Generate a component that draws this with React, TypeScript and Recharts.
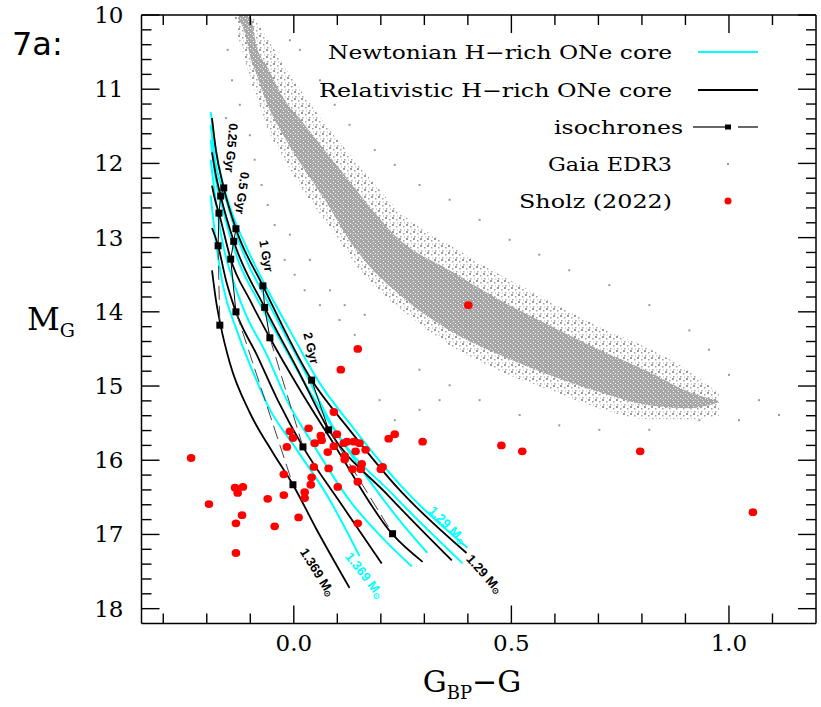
import React from "react";
import { ComposedChart, Line, Area, Scatter, XAxis, YAxis, ReferenceDot, Legend, Label } from "recharts";

// ---------- axes ----------
const xTicks = [-0.3, -0.2, -0.1, 0.0, 0.1, 0.2, 0.3, 0.4, 0.5, 0.6, 0.7, 0.8, 0.9, 1.0, 1.1];
const xMajorTicks = [0.0, 0.5, 1.0];
const xMajorLabels = ["0.0", "0.5", "1.0"];
const yTicks = [10, 10.2, 10.4, 10.6, 10.8, 11, 11.2, 11.4, 11.6, 11.8, 12, 12.2, 12.4, 12.6, 12.8, 13, 13.2, 13.4, 13.6, 13.8, 14, 14.2, 14.4, 14.6, 14.8, 15, 15.2, 15.4, 15.6, 15.8, 16, 16.2, 16.4, 16.6, 16.8, 17, 17.2, 17.4, 17.6, 17.8, 18];
const yMajorTicks = [10, 11, 12, 13, 14, 15, 16, 17, 18];
const yMajorLabels = ["10", "11", "12", "13", "14", "15", "16", "17", "18"];

// ---------- Gaia EDR3 density band (range of M_G at a given colour) ----------
const gaiaBand = [
  { x: -0.128, halo: [10.0, 10.3], core: [10.0, 10.05] },
  { x: -0.112, halo: [10.0, 10.6], core: [10.0, 10.25] },
  { x: -0.101, halo: [10.0, 10.85], core: [10.0, 10.54] },
  { x: -0.085, halo: [10.1, 11.1], core: [10.43, 10.81] },
  { x: -0.062, halo: [10.3, 11.5], core: [10.69, 11.19] },
  { x: -0.016, halo: [10.75, 12.0], core: [11.19, 11.7] },
  { x: 0.014, halo: [11.0, 12.3], core: [11.4, 11.99] },
  { x: 0.076, halo: [11.5, 12.8], core: [11.86, 12.53] },
  { x: 0.117, halo: [11.8, 13.15], core: [12.16, 12.94] },
  { x: 0.167, halo: [12.15, 13.55], core: [12.53, 13.34] },
  { x: 0.243, halo: [12.65, 13.95], core: [13.03, 13.77] },
  { x: 0.358, halo: [13.1, 14.45], core: [13.44, 14.25] },
  { x: 0.473, halo: [13.5, 14.8], core: [13.84, 14.58] },
  { x: 0.587, halo: [13.85, 15.05], core: [14.18, 14.85] },
  { x: 0.702, halo: [14.2, 15.3], core: [14.51, 15.08] },
  { x: 0.817, halo: [14.5, 15.45], core: [14.81, 15.26] },
  { x: 0.909, halo: [14.8, 15.45], core: [15.08, 15.3] },
  { x: 0.977, halo: [15.1, 15.4], core: [15.2, 15.22] },
];

// sparse Gaia EDR3 stars outside the dense band
const gaiaSparse = [
  { x: -0.133, m: 10.04 }, { x: -0.152, m: 10.47 }, { x: -0.142, m: 10.88 }, { x: -0.124, m: 11.21 },
  { x: -0.156, m: 11.39 }, { x: -0.101, m: 11.62 }, { x: -0.09, m: 11.95 }, { x: -0.074, m: 12.29 },
  { x: -0.06, m: 12.56 }, { x: -0.044, m: 12.83 }, { x: -0.009, m: 12.96 }, { x: -0.021, m: 13.3 },
  { x: 0.002, m: 13.5 }, { x: 0.025, m: 13.71 }, { x: 0.06, m: 13.91 }, { x: 0.105, m: 14.11 },
  { x: 0.14, m: 14.31 }, { x: 0.037, m: 13.3 }, { x: 0.083, m: 13.71 }, { x: 0.117, m: 13.91 },
  { x: 0.163, m: 14.04 }, { x: 0.014, m: 10.47 }, { x: -0.009, m: 10.34 }, { x: 0.06, m: 10.88 },
  { x: 0.094, m: 11.21 }, { x: 0.128, m: 11.48 }, { x: 0.186, m: 11.82 }, { x: 0.232, m: 12.02 },
  { x: 0.289, m: 12.29 }, { x: 0.358, m: 12.49 }, { x: 0.427, m: 12.76 }, { x: 0.496, m: 13.03 },
  { x: 0.564, m: 13.23 }, { x: 0.633, m: 13.44 }, { x: 0.725, m: 13.64 }, { x: 0.817, m: 13.91 },
  { x: 0.909, m: 14.25 }, { x: 0.954, m: 14.51 }, { x: 1.0, m: 14.85 }, { x: 1.069, m: 15.19 },
  { x: 1.115, m: 15.39 }, { x: 0.289, m: 14.78 }, { x: 0.358, m: 14.99 }, { x: 0.427, m: 15.19 },
  { x: 0.519, m: 15.39 }, { x: 0.61, m: 15.53 }, { x: 0.702, m: 15.59 }, { x: 0.817, m: 15.59 },
  { x: 0.932, m: 15.46 }, { x: 1.023, m: 15.46 }, { x: 0.232, m: 15.46 }, { x: 0.289, m: 15.32 },
  { x: 0.335, m: 15.19 }, { x: 0.197, m: 15.19 },
];

// ---------- Sholz (2022) stars ----------
const sholzStars = [
  { x: -0.236, m: 15.97 }, { x: -0.195, m: 16.59 }, { x: -0.135, m: 16.37 }, { x: -0.117, m: 16.36 },
  { x: -0.129, m: 16.44 }, { x: -0.06, m: 16.52 }, { x: -0.023, m: 16.47 }, { x: -0.023, m: 16.19 },
  { x: -0.119, m: 16.74 }, { x: -0.133, m: 16.85 }, { x: -0.044, m: 16.89 }, { x: 0.011, m: 16.77 },
  { x: -0.133, m: 17.25 }, { x: -0.016, m: 15.82 }, { x: -0.009, m: 15.61 }, { x: -0.002, m: 15.7 },
  { x: 0.034, m: 15.57 }, { x: 0.048, m: 15.77 }, { x: 0.041, m: 16.23 }, { x: 0.039, m: 16.33 },
  { x: 0.025, m: 16.43 }, { x: 0.025, m: 16.51 }, { x: 0.046, m: 16.09 }, { x: 0.062, m: 15.67 },
  { x: 0.064, m: 15.73 }, { x: 0.092, m: 15.81 }, { x: 0.092, m: 15.35 }, { x: 0.108, m: 14.78 },
  { x: 0.147, m: 14.5 }, { x: 0.099, m: 15.65 }, { x: 0.078, m: 15.89 }, { x: 0.08, m: 16.11 },
  { x: 0.101, m: 16.36 }, { x: 0.147, m: 16.29 }, { x: 0.147, m: 16.85 }, { x: 0.115, m: 15.77 },
  { x: 0.122, m: 15.75 }, { x: 0.138, m: 15.75 }, { x: 0.151, m: 15.77 }, { x: 0.117, m: 15.94 },
  { x: 0.117, m: 15.99 }, { x: 0.142, m: 15.88 }, { x: 0.165, m: 15.86 }, { x: 0.135, m: 16.12 },
  { x: 0.156, m: 16.05 }, { x: 0.154, m: 16.12 }, { x: 0.2, m: 16.12 }, { x: 0.204, m: 16.09 },
  { x: 0.218, m: 15.71 }, { x: 0.232, m: 15.65 }, { x: 0.296, m: 15.75 }, { x: 0.477, m: 15.8 },
  { x: 0.525, m: 15.88 }, { x: 0.796, m: 15.88 }, { x: 1.055, m: 16.7 }, { x: 0.401, m: 13.91 },
];

// ---------- cooling tracks: Newtonian (cyan) ----------
const newt129 = [
  { x: -0.191, m: 11.31 }, { x: -0.181, m: 11.75 }, { x: -0.165, m: 12.22 }, { x: -0.14, m: 12.7 },
  { x: -0.108, m: 13.14 }, { x: -0.06, m: 13.71 }, { x: -0.009, m: 14.25 }, { x: 0.055, m: 14.92 },
  { x: 0.14, m: 15.59 }, { x: 0.255, m: 16.4 }, { x: 0.399, m: 17.18 },
];
const newt131 = [
  { x: -0.191, m: 11.48 }, { x: -0.181, m: 11.95 }, { x: -0.158, m: 12.44 }, { x: -0.126, m: 13.05 },
  { x: -0.053, m: 13.94 }, { x: 0.023, m: 14.78 }, { x: 0.094, m: 15.59 }, { x: 0.229, m: 16.47 },
  { x: 0.388, m: 17.39 },
];
const newt133 = [
  { x: -0.191, m: 11.68 }, { x: -0.181, m: 12.16 }, { x: -0.161, m: 12.67 }, { x: -0.129, m: 13.29 },
  { x: -0.083, m: 13.84 }, { x: -0.034, m: 14.35 }, { x: 0.034, m: 15.05 }, { x: 0.117, m: 15.8 },
  { x: 0.243, m: 16.81 }, { x: 0.307, m: 17.25 },
];
const newt135 = [
  { x: -0.191, m: 11.95 }, { x: -0.181, m: 12.43 }, { x: -0.165, m: 13.03 }, { x: -0.14, m: 13.57 },
  { x: -0.113, m: 14.0 }, { x: -0.062, m: 14.58 }, { x: -0.016, m: 15.19 }, { x: 0.048, m: 15.82 },
  { x: 0.128, m: 16.54 }, { x: 0.209, m: 17.08 }, { x: 0.271, m: 17.43 },
];
const newt1369 = [
  { x: -0.191, m: 12.43 }, { x: -0.181, m: 12.96 }, { x: -0.163, m: 13.64 }, { x: -0.131, m: 14.25 },
  { x: -0.096, m: 14.78 }, { x: -0.06, m: 15.26 }, { x: 0.007, m: 15.86 }, { x: 0.076, m: 16.47 },
  { x: 0.151, m: 17.29 },
];

// ---------- cooling tracks: relativistic (black) ----------
const rel129 = [
  { x: -0.188, m: 11.39 }, { x: -0.179, m: 11.82 }, { x: -0.161, m: 12.33 }, { x: -0.133, m: 12.88 },
  { x: -0.071, m: 13.65 }, { x: 0.041, m: 14.92 }, { x: 0.128, m: 15.59 }, { x: 0.243, m: 16.4 },
  { x: 0.397, m: 17.25 },
];
const rel131 = [
  { x: -0.188, m: 11.85 }, { x: -0.179, m: 12.16 }, { x: -0.168, m: 12.44 }, { x: -0.138, m: 13.05 },
  { x: -0.067, m: 13.94 }, { x: 0.009, m: 14.78 }, { x: 0.08, m: 15.59 }, { x: 0.216, m: 16.47 },
  { x: 0.363, m: 17.35 },
];
const rel133 = [
  { x: -0.188, m: 12.3 }, { x: -0.181, m: 12.49 }, { x: -0.172, m: 12.67 }, { x: -0.145, m: 13.29 },
  { x: -0.101, m: 13.84 }, { x: -0.055, m: 14.35 }, { x: 0.014, m: 15.05 }, { x: 0.094, m: 15.8 },
  { x: 0.227, m: 17.0 }, { x: 0.296, m: 17.37 },
];
const rel135 = [
  { x: -0.188, m: 12.87 }, { x: -0.174, m: 13.11 }, { x: -0.156, m: 13.57 }, { x: -0.133, m: 14.0 },
  { x: -0.085, m: 14.58 }, { x: -0.037, m: 15.19 }, { x: 0.021, m: 15.82 }, { x: 0.11, m: 16.6 },
  { x: 0.202, m: 17.39 },
];
const rel1369 = [
  { x: -0.188, m: 13.44 }, { x: -0.179, m: 13.84 }, { x: -0.168, m: 14.19 }, { x: -0.147, m: 14.69 },
  { x: -0.101, m: 15.36 }, { x: -0.048, m: 15.9 }, { x: -0.002, m: 16.33 }, { x: 0.053, m: 16.94 },
  { x: 0.128, m: 17.72 },
];

// ---------- isochrones ----------
const iso025 = [{ x: -0.161, m: 12.33 }, { x: -0.168, m: 12.44 }, { x: -0.172, m: 12.67 }, { x: -0.174, m: 13.11 }];
const iso025Dash = [{ x: -0.174, m: 13.11 }, { x: -0.17, m: 14.18 }];
const iso05 = [{ x: -0.133, m: 12.88 }, { x: -0.138, m: 13.05 }, { x: -0.145, m: 13.29 }, { x: -0.133, m: 14.0 }];
const iso05Dash = [{ x: -0.133, m: 14.0 }, { x: -0.002, m: 16.33 }];
const iso1 = [{ x: -0.071, m: 13.65 }, { x: -0.067, m: 13.94 }, { x: -0.055, m: 14.35 }];
const iso1Dash = [{ x: -0.055, m: 14.35 }, { x: 0.021, m: 15.82 }];
const iso2 = [{ x: 0.041, m: 14.92 }, { x: 0.08, m: 15.59 }];
const iso2Dash = [{ x: 0.08, m: 15.59 }, { x: 0.227, m: 16.99 }];
const isoPoints = [...iso025, { x: -0.17, m: 14.18 }, ...iso05, { x: -0.002, m: 16.33 }, ...iso1, { x: 0.021, m: 15.82 }, ...iso2, { x: 0.227, m: 16.99 }];

// ---------- styles ----------
const CYAN = "#00ffff";
const SERIF = "'DejaVu Serif', serif";
const LABEL_FONT = "'Liberation Sans', Arial, sans-serif";

const idx = (arr: number[], v: number) => arr.findIndex((a) => Math.abs(a - v) < 1e-6);

function BottomTick(props: any) {
  const { x, y, payload } = props;
  const i = idx(xMajorTicks, payload.value);
  return (
    <g>
      <line x1={x} y1={y} x2={x} y2={y - (i >= 0 ? 18 : 10)} stroke="#000" strokeWidth={1.4} />
      {i >= 0 && (
        <text x={x} y={y + 27} textAnchor="middle" fontFamily={SERIF} fontSize={23} fill="#000">
          {xMajorLabels[i]}
        </text>
      )}
    </g>
  );
}
function TopTick(props: any) {
  const { x, y, payload } = props;
  const i = idx(xMajorTicks, payload.value);
  return <line x1={x} y1={y} x2={x} y2={y + (i >= 0 ? 18 : 10)} stroke="#000" strokeWidth={1.4} />;
}
function LeftTick(props: any) {
  const { x, y, payload } = props;
  const i = idx(yMajorTicks, payload.value);
  return (
    <g>
      <line x1={x} y1={y} x2={x + (i >= 0 ? 18 : 10)} y2={y} stroke="#000" strokeWidth={1.4} />
      {i >= 0 && (
        <text x={x - 18} y={y + 8} textAnchor="end" fontFamily={SERIF} fontSize={23} fill="#000">
          {yMajorLabels[i]}
        </text>
      )}
    </g>
  );
}
function RightTick(props: any) {
  const { x, y, payload } = props;
  const i = idx(yMajorTicks, payload.value);
  return <line x1={x} y1={y} x2={x - (i >= 0 ? 18 : 10)} y2={y} stroke="#000" strokeWidth={1.4} />;
}

const Square = (p: any) => <rect x={p.cx - 3.5} y={p.cy - 3.5} width={7} height={7} fill="#000" />;
const RedDot = (p: any) => <ellipse cx={p.cx} cy={p.cy} rx={4.3} ry={3.9} fill="#ff0000" />;
const GreyDot = (p: any) => <rect x={p.cx - 1} y={p.cy - 1} width={2} height={2} fill="#9a9a9a" />;

function rotText(text: string, angle: number, color: string, size: number, sun: boolean) {
  return (p: any) => (
    <text
      x={p.cx}
      y={p.cy}
      transform={`rotate(${angle} ${p.cx} ${p.cy})`}
      textAnchor="middle"
      dominantBaseline="central"
      fontFamily={LABEL_FONT}
      fontWeight="bold"
      fontSize={size}
      fill={color}
    >
      {text}
      {sun && (
        <tspan fontSize={size * 0.65} dy={3}>
          ⊙
        </tspan>
      )}
    </text>
  );
}

function LegendBox() {
  const rows = [
    { t: "Newtonian H−rich ONe core", len: 344, y: 22 },
    { t: "Relativistic H−rich ONe core", len: 353, y: 60 },
    { t: "isochrones", len: 129, y: 97, right: 383 },
    { t: "Gaia EDR3", len: 124, y: 134 },
    { t: "Sholz (2022)", len: 153, y: 171 },
  ];
  return (
    <svg width={480} height={190} style={{ display: "block", overflow: "visible" }}>
      {rows.map((r) => (
        <text
          key={r.t}
          x={(r.right ?? 372) - r.len}
          y={r.y + 7}
          textLength={r.len}
          lengthAdjust="spacingAndGlyphs"
          fontFamily={SERIF}
          fontSize={19}
          fill="#000"
        >
          {r.t}
        </text>
      ))}
      <line x1={398} y1={22} x2={458} y2={22} stroke={CYAN} strokeWidth={2} />
      <line x1={398} y1={60} x2={458} y2={60} stroke="#000" strokeWidth={2} />
      <line x1={393} y1={97} x2={425} y2={97} stroke="#000" strokeWidth={1.2} />
      <rect x={425} y={94.5} width={6} height={5} fill="#000" />
      <line x1={438} y1={97} x2={458} y2={97} stroke="#000" strokeWidth={1.2} />
      <rect x={427} y={133} width={2} height={2} fill="#9a9a9a" />
      <circle cx={428} cy={171} r={3.5} fill="#ff0000" />
    </svg>
  );
}

const YTitle = () => (
  <g>
    <text x={12} y={55} fontFamily="'DejaVu Sans', sans-serif" fontSize={32} fill="#000">
      7a:
    </text>
    <text x={27} y={330} fontFamily={SERIF} fontSize={32} fill="#000">
      M
      <tspan fontSize={19} dy={7}>
        G
      </tspan>
    </text>
  </g>
);
const XTitle = () => (
  <text x={472} y={692} textAnchor="middle" fontFamily={SERIF} fontSize={30} fill="#000">
    G
    <tspan fontSize={18} dy={7}>
      BP
    </tspan>
    <tspan dy={-7}>−G</tspan>
  </text>
);

export default function App() {
  const axisLine = { stroke: "#000", strokeWidth: 1.5 };
  const xCommon: any = {
    dataKey: "x",
    type: "number",
    domain: [-0.35, 1.2],
    allowDataOverflow: true,
    ticks: xTicks,
    interval: 0,
    tickLine: false,
    tickSize: 0,
    tickMargin: 0,
    height: 1,
    axisLine,
  };
  const yCommon: any = {
    type: "number",
    domain: [10, 18.2],
    reversed: true,
    allowDataOverflow: true,
    ticks: yTicks,
    interval: 0,
    tickLine: false,
    tickSize: 0,
    tickMargin: 0,
    width: 1,
    axisLine,
  };
  const lineCommon: any = { dataKey: "m", dot: false, activeDot: false, isAnimationActive: false, type: "monotone" };
  return (
    <div style={{ position: "absolute", left: 0, top: 0, width: 821, height: 707, background: "#fff" }}>
      <ComposedChart width={821} height={707} data={gaiaBand} margin={{ top: 14, right: 4, bottom: 82.5, left: 140.5 }}>
        <defs>
          <pattern id="gaiaCore" width="5" height="5" patternUnits="userSpaceOnUse">
            <rect x="0" y="0" width="5" height="5" fill="#a6a6a6" />
            <rect x="3" y="1" width="1" height="1" fill="#ffffff" />
            <rect x="0" y="3" width="1" height="1" fill="#ffffff" />
            <rect x="2" y="4" width="1" height="1" fill="#dddddd" />
          </pattern>
          <pattern id="gaiaHalo" width="7" height="7" patternUnits="userSpaceOnUse">
            <rect x="0" y="0" width="2" height="2" fill="#9a9a9a" />
            <rect x="4" y="2" width="1.5" height="1.5" fill="#a0a0a0" />
            <rect x="1" y="5" width="1.5" height="1.5" fill="#a8a8a8" />
            <rect x="5" y="5.5" width="1" height="1" fill="#b0b0b0" />
          </pattern>
        </defs>
        <XAxis {...xCommon} tick={<BottomTick />}>
          <Label content={XTitle} />
        </XAxis>
        <XAxis {...xCommon} xAxisId="top" orientation="top" tick={<TopTick />} />
        <YAxis {...yCommon} tick={<LeftTick />}>
          <Label content={YTitle} />
        </YAxis>
        <YAxis {...yCommon} yAxisId="right" orientation="right" tick={<RightTick />} />

        <Area dataKey="halo" type="monotone" stroke="none" fill="url(#gaiaHalo)" fillOpacity={1} isAnimationActive={false} activeDot={false} />
        <Area dataKey="core" type="monotone" stroke="none" fill="url(#gaiaCore)" fillOpacity={1} isAnimationActive={false} activeDot={false} />
        <Scatter data={gaiaSparse} dataKey="m" shape={GreyDot} isAnimationActive={false} />

        <Line {...lineCommon} data={newt129} stroke={CYAN} strokeWidth={2} />
        <Line {...lineCommon} data={newt131} stroke={CYAN} strokeWidth={2} />
        <Line {...lineCommon} data={newt133} stroke={CYAN} strokeWidth={2} />
        <Line {...lineCommon} data={newt135} stroke={CYAN} strokeWidth={2} />
        <Line {...lineCommon} data={newt1369} stroke={CYAN} strokeWidth={2} />
        <Line {...lineCommon} data={rel129} stroke="#000" strokeWidth={1.8} />
        <Line {...lineCommon} data={rel131} stroke="#000" strokeWidth={1.8} />
        <Line {...lineCommon} data={rel133} stroke="#000" strokeWidth={1.8} />
        <Line {...lineCommon} data={rel135} stroke="#000" strokeWidth={1.8} />
        <Line {...lineCommon} data={rel1369} stroke="#000" strokeWidth={1.8} />

        <Line {...lineCommon} type="linear" data={iso025} stroke="#000" strokeWidth={1} />
        <Line {...lineCommon} type="linear" data={iso05} stroke="#000" strokeWidth={1} />
        <Line {...lineCommon} type="linear" data={iso1} stroke="#000" strokeWidth={1} />
        <Line {...lineCommon} type="linear" data={iso2} stroke="#000" strokeWidth={1} />
        <Line {...lineCommon} type="linear" data={iso025Dash} stroke="#444" strokeWidth={1} strokeDasharray="14 6" />
        <Line {...lineCommon} type="linear" data={iso05Dash} stroke="#444" strokeWidth={1} strokeDasharray="14 6" />
        <Line {...lineCommon} type="linear" data={iso1Dash} stroke="#444" strokeWidth={1} strokeDasharray="14 6" />
        <Line {...lineCommon} type="linear" data={iso2Dash} stroke="#444" strokeWidth={1} strokeDasharray="14 6" />
        <Scatter data={isoPoints} dataKey="m" shape={Square} isAnimationActive={false} />

        <Scatter data={sholzStars} dataKey="m" shape={RedDot} isAnimationActive={false} />

        <ReferenceDot x={-0.144} y={11.79} r={0} ifOverflow="visible" shape={rotText("0.25 Gyr", 95, "#000", 12.5, false)} />
        <ReferenceDot x={-0.119} y={12.4} r={0} ifOverflow="visible" shape={rotText("0.5 Gyr", 97, "#000", 12.5, false)} />
        <ReferenceDot x={-0.064} y={13.25} r={0} ifOverflow="visible" shape={rotText("1 Gyr", 80, "#000", 12.5, false)} />
        <ReferenceDot x={0.039} y={14.49} r={0} ifOverflow="visible" shape={rotText("2 Gyr", 77, "#000", 12.5, false)} />
        <ReferenceDot x={0.353} y={16.87} r={0} ifOverflow="visible" shape={rotText("1.29 M", 45, CYAN, 13, true)} />
        <ReferenceDot x={0.438} y={17.53} r={0} ifOverflow="visible" shape={rotText("1.29 M", 48, "#000", 13, true)} />
        <ReferenceDot x={0.163} y={17.55} r={0} ifOverflow="visible" shape={rotText("1.369 M", 52, CYAN, 13, true)} />
        <ReferenceDot x={0.055} y={17.51} r={0} ifOverflow="visible" shape={rotText("1.369 M", 58, "#000", 13, true)} />

        <Legend
          layout="vertical"
          align="center"
          verticalAlign="middle"
          content={() => <LegendBox />}
          wrapperStyle={{ position: "absolute", left: 300, top: 30, width: 480, height: 190 }}
        />
      </ComposedChart>
    </div>
  );
}
